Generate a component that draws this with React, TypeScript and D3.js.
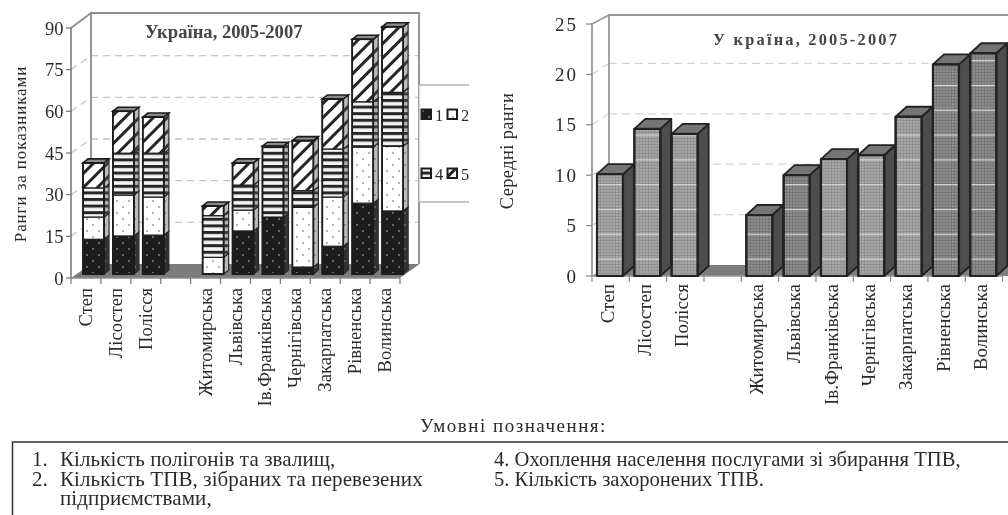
import React from "react";
import * as d3 from "d3";

const categories = ["Степ", "Лісостеп", "Полісся", " ", "Житомирська", "Львівська", "Ів.Франківська", "Чернігівська", "Закарпатська", "Рівненська", "Волинська"];
const series1 = [12.5, 13.7, 14, 0, 0, 15.5, 20.5, 2.5, 10, 25.5, 22.7];
const series2 = [8, 14.7, 13.7, 0, 6, 7.5, 0, 21.5, 17.7, 20.2, 23.3];
const series4 = [10.5, 15.1, 15.8, 0, 15, 9, 25.5, 6, 17.3, 16.3, 19.4];
const series5 = [9, 15.1, 13, 0, 3.5, 8, 0, 18, 18, 22.5, 23.6];
const meanRanks = [10.1, 14.6, 14.1, 0, 6.05, 10, 11.6, 12, 15.8, 21, 22.1];
const lightBars = ["Степ", "Лісостеп", "Полісся", "Ів.Франківська", "Чернігівська", "Закарпатська"];
const leftTicks = [0, 15, 30, 45, 60, 75, 90];
const rightTicks = [0, 5, 10, 15, 20, 25];
const noteLeft = [
  ["1.", "Кількість полігонів та звалищ,"],
  ["2.", "Кількість ТПВ, зібраних та перевезених"],
  ["", "підприємствами,"],
];
const noteRight = ["4. Охоплення населення послугами зі збирання ТПВ,", "5. Кількість захоронених ТПВ."];

const W = 1008, H = 515;
const serif = "'Liberation Serif', serif";
const ink = "#2b2b2b";

const xL = d3.scaleBand<string>().domain(categories).range([71, 400]);
const yL = d3.scaleLinear().domain([0, 90]).range([278, 28]);
const xR = d3.scaleBand<string>().domain(categories).range([592, 1002.6]);
const yR = d3.scaleLinear().domain([0, 25]).range([276, 24]);

const stackRows = categories.map((c, i) => ({ c, s1: series1[i], s2: series2[i], s4: series4[i], s5: series5[i] }));
const keys = ["s1", "s2", "s4", "s5"];
const stacked = d3.stack<any>().keys(keys)(stackRows);
const patternOf: Record<string, string> = { s1: "pBlack", s2: "pDots", s4: "pStripes", s5: "pDiag" };

const pts = (a: number[][]) => a.map((p) => p.join(",")).join(" ");

function Defs() {
  return (
    <defs>
      <filter id="soft" x="-2%" y="-2%" width="104%" height="104%">
        <feGaussianBlur stdDeviation="0.45" />
      </filter>
      <pattern id="pBlack" width="12" height="12" patternUnits="userSpaceOnUse">
        <rect width="12" height="12" fill="#1c1c1c" />
        <circle cx="3" cy="3" r="0.9" fill="#8a8a8a" />
        <circle cx="9" cy="9" r="0.9" fill="#8a8a8a" />
      </pattern>
      <pattern id="pDots" width="12" height="12" patternUnits="userSpaceOnUse">
        <rect width="12" height="12" fill="#fff" />
        <circle cx="3" cy="3" r="0.8" fill="#555" />
        <circle cx="9" cy="9" r="0.8" fill="#555" />
      </pattern>
      <pattern id="pStripes" width="6.6" height="6.6" patternUnits="userSpaceOnUse">
        <rect width="6.6" height="6.6" fill="#f4f4f4" />
        <rect width="6.6" height="3" fill="#262626" />
      </pattern>
      <pattern id="pDiag" width="10" height="10" patternUnits="userSpaceOnUse" patternTransform="rotate(45)">
        <rect width="10" height="10" fill="#fff" />
        <rect width="3" height="10" fill="#262626" />
      </pattern>
      <pattern id="pLight" width="3" height="3" patternUnits="userSpaceOnUse">
        <rect width="3" height="3" fill="#a6a6a6" />
        <rect width="1" height="3" fill="#929292" />
        <rect width="3" height="1" fill="#929292" />
      </pattern>
      <pattern id="pDark" width="3" height="3" patternUnits="userSpaceOnUse">
        <rect width="3" height="3" fill="#8c8c8c" />
        <rect width="1" height="3" fill="#787878" />
        <rect width="3" height="1" fill="#787878" />
      </pattern>
      <pattern id="pRule" width="10" height="24.8" y="10.5" patternUnits="userSpaceOnUse">
        <rect width="10" height="1.2" fill="#d8d8d8" />
      </pattern>
    </defs>
  );
}

function LeftChart() {
  const dx = 5, dy = -4, barW = 21;
  const wx0 = 91, wx1 = 419, wy0 = 13, wy1 = 264;
  const backY = (v: number) => yL(v) - 14;
  return (
    <g>
      {leftTicks.filter((t) => t > 0 && t < 90).map((t) => (
        <g key={t} stroke="#c4c4c4" strokeWidth={1.3} strokeDasharray="7 5" fill="none">
          <line x1={wx0} x2={wx1} y1={backY(t)} y2={backY(t)} />
          <line x1={71} y1={yL(t)} x2={wx0} y2={backY(t)} />
        </g>
      ))}
      <polyline points={pts([[71, yL(0)], [71, yL(90)], [wx0, wy0], [wx0, wy1]])} fill="none" stroke="#8c8c8c" strokeWidth={1.8} />
      <polyline points={pts([[wx0, wy0], [wx1, wy0], [wx1, wy1]])} fill="none" stroke="#8c8c8c" strokeWidth={1.8} />
      <polygon points={pts([[71, yL(0)], [wx0, wy1], [wx1 + 0.5, wy1], [400, yL(0)]])} fill="#7b7b7b" />
      <line x1={71} x2={400} y1={yL(0)} y2={yL(0)} stroke="#8c8c8c" strokeWidth={1.5} />
      {leftTicks.map((t) => (
        <g key={t}>
          <line x1={66} x2={71} y1={yL(t)} y2={yL(t)} stroke="#777" strokeWidth={1.2} />
          <text x={63.5} y={yL(t) + 6.5} textAnchor="end" fontSize={18.5} fontFamily={serif} fill={ink}>{t}</text>
        </g>
      ))}
      {[...categories, "end"].map((c, i) => {
        const x = 71 + i * xL.step();
        return <line key={i} x1={x} x2={x} y1={yL(0)} y2={yL(0) + 6} stroke="#777" strokeWidth={1.2} />;
      })}
      {categories.map((c) => (
        <text key={c} transform={`translate(${xL(c)! + xL.bandwidth() / 2 - 0.5},288) rotate(-90)`} textAnchor="end" dominantBaseline="central" fontSize={18.6} fontFamily={serif} fill={ink}>{c.trim()}</text>
      ))}
      {categories.map((c, i) => {
        if (!c.trim()) return null;
        const x = xL(c)! + 12;
        const top = d3.max(stacked, (s) => s[i][1])!;
        const yTop = yL(top) + dy;
        return (
          <g key={c} stroke="#1c1c1c" strokeWidth={1.2}>
            {stacked.map((s) => {
              const d = s[i];
              if (d[1] - d[0] <= 0) return null;
              const a = yL(d[1]) + dy, b = yL(d[0]) + dy;
              const fill = `url(#${patternOf[s.key]})`;
              const side = pts([[x + barW, a], [x + barW + dx, a + dy], [x + barW + dx, b + dy], [x + barW, b]]);
              return (
                <g key={s.key}>
                  <polygon points={side} fill={fill} />
                  <polygon points={side} fill="#555" fillOpacity={0.4} stroke="none" />
                  <rect x={x} y={a} width={barW} height={b - a} fill={fill} />
                </g>
              );
            })}
            <polygon points={pts([[x, yTop], [x + dx, yTop + dy], [x + barW + dx, yTop + dy], [x + barW, yTop]])} fill="#8a8a8a" strokeWidth={1.6} />
            <rect x={x} y={yTop} width={barW} height={yL(0) + dy - yTop} fill="none" strokeWidth={1.8} />
          </g>
        );
      })}
      <rect x={wx1} y={85} width={52} height={117} fill="#fff" />
      <polyline points={pts([[469, 85], [wx1, 85], [wx1, 202], [469, 202]])} fill="none" stroke="#b5b5b5" strokeWidth={1.3} />
      {[
        { k: "pBlack", t: "1", x: 421, y: 109 },
        { k: "pDots", t: "2", x: 447, y: 109 },
        { k: "pStripes", t: "4", x: 421, y: 168 },
        { k: "pDiag", t: "5", x: 447, y: 168 },
      ].map((l) => (
        <g key={l.t}>
          <rect x={l.x + 0.5} y={l.y + 0.5} width={9.5} height={9.5} fill={`url(#${l.k})`} stroke="#1c1c1c" strokeWidth={2} />
          <text x={l.x + 14} y={l.y + 12} fontSize={16.5} fontFamily={serif} fill={ink}>{l.t}</text>
        </g>
      ))}
      <text x={145} y={38} fontSize={18.6} fontWeight="bold" fontFamily={serif} fill="#444">Україна, 2005-2007</text>
      <text transform="translate(20,154) rotate(-90)" textAnchor="middle" dominantBaseline="central" fontSize={17} fontFamily={serif} letterSpacing={0.9} fill={ink}>Ранги за показниками</text>
    </g>
  );
}

function RightChart() {
  const dx = 11, dy = -10, barW = 26;
  const wx0 = 609, wy0 = 15, wy1 = 265;
  const backY = (v: number) => yR(v) - 11;
  return (
    <g>
      {rightTicks.filter((t) => t > 0 && t < 25).map((t) => (
        <g key={t} stroke="#d4d4d4" strokeWidth={1.3} strokeDasharray="8 5" fill="none">
          <line x1={wx0} x2={W} y1={backY(t)} y2={backY(t)} />
          <line x1={592} y1={yR(t)} x2={wx0} y2={backY(t)} />
        </g>
      ))}
      <polyline points={pts([[592, yR(0)], [592, yR(25)], [wx0, wy0], [wx0, wy1]])} fill="none" stroke="#999" strokeWidth={1.8} />
      <line x1={wx0} x2={W} y1={wy0} y2={wy0} stroke="#999" strokeWidth={2} />
      <polygon points={pts([[592, yR(0)], [wx0, wy1], [W, wy1], [W, yR(0)]])} fill="#7b7b7b" />
      <line x1={592} x2={1003} y1={yR(0)} y2={yR(0)} stroke="#999" strokeWidth={1.5} />
      {rightTicks.map((t) => (
        <g key={t}>
          <line x1={586} x2={592} y1={yR(t)} y2={yR(t)} stroke="#888" strokeWidth={1.2} />
          <text x={578} y={yR(t) + 6.5} textAnchor="end" fontSize={19} fontFamily={serif} letterSpacing={2} fill={ink}>{t}</text>
        </g>
      ))}
      {[...categories, "end"].map((c, i) => {
        const x = 592 + i * xR.step();
        return <line key={i} x1={x} x2={x} y1={yR(0)} y2={yR(0) + 6} stroke="#888" strokeWidth={1.2} />;
      })}
      {categories.map((c) => (
        <text key={c} transform={`translate(${xR(c)! + xR.bandwidth() / 2 - 3.5},284) rotate(-90)`} textAnchor="end" dominantBaseline="central" fontSize={19} fontFamily={serif} fill={ink}>{c.trim()}</text>
      ))}
      {categories.map((c, i) => {
        if (!c.trim()) return null;
        const x = xR(c)! + 5;
        const a = yR(meanRanks[i]), b = yR(0);
        const light = lightBars.includes(c);
        return (
          <g key={c} stroke="#222" strokeWidth={1.8} strokeLinejoin="round">
            <polygon points={pts([[x + barW, a], [x + barW + dx, a + dy], [x + barW + dx, b + dy], [x + barW, b]])} fill="#4d4d4d" />
            <polygon points={pts([[x, a], [x + dx, a + dy], [x + barW + dx, a + dy], [x + barW, a]])} fill="#757575" />
            <rect x={x} y={a} width={barW} height={b - a} fill={`url(#${light ? "pLight" : "pDark"})`} />
            <rect x={x + 1} y={a + 1} width={barW - 2} height={b - a - 2} fill="url(#pRule)" stroke="none" />
            <rect x={x} y={a} width={barW} height={b - a} fill="none" strokeWidth={2.2} />
          </g>
        );
      })}
      <text x={713} y={45} fontSize={16.4} fontWeight="bold" fontFamily={serif} letterSpacing={2.2} fill="#444">У країна, 2005-2007</text>
      <text transform="translate(507,151) rotate(-90)" textAnchor="middle" dominantBaseline="central" fontSize={18.4} fontFamily={serif} letterSpacing={0.4} fill={ink}>Середні ранги</text>
    </g>
  );
}

function Notes() {
  const ys = [466, 486, 505];
  return (
    <g fontFamily={serif} fill={ink}>
      <text x={420} y={432} fontSize={19} letterSpacing={1.5}>Умовні позначення:</text>
      <polyline points={pts([[W, 442], [12.5, 442], [12.5, H]])} fill="none" stroke="#333" strokeWidth={1.5} />
      {noteLeft.map((r, i) => (
        <g key={i} fontSize={21}>
          <text x={32} y={ys[i]}>{r[0]}</text>
          <text x={60} y={ys[i]} letterSpacing={0.1}>{r[1]}</text>
        </g>
      ))}
      {noteRight.map((r, i) => (
        <text key={i} x={494} y={ys[i]} fontSize={20.6}>{r}</text>
      ))}
    </g>
  );
}

export default function App() {
  return (
    <svg width={W} height={H} viewBox={`0 0 ${W} ${H}`} style={{ position: "absolute", left: 0, top: 0, background: "#fff" }}>
      <Defs />
      <g filter="url(#soft)">
        <LeftChart />
        <RightChart />
        <Notes />
      </g>
    </svg>
  );
}
